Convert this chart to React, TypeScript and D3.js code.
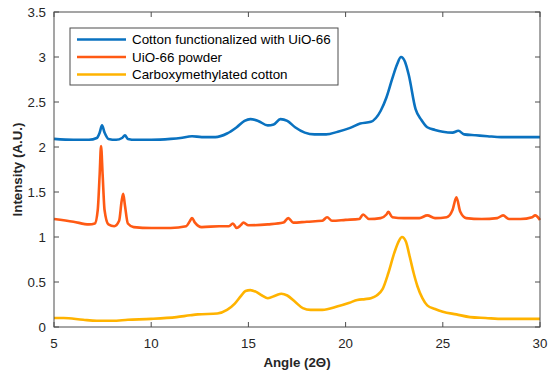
import React from "react";
import * as d3 from "d3";

const seriesNames = [
  "Cotton functionalized with UiO-66",
  "UiO-66 powder",
  "Carboxymethylated cotton",
];
const seriesColors = ["#0a72c0", "#ff5a14", "#ffb300"];

const cottonUioX = [5, 6, 6.8, 7.2, 7.35, 7.47, 7.6, 7.8, 8.2, 8.5, 8.65, 8.8, 9.2, 10, 11, 11.5, 12.1, 12.6, 13.3, 13.9, 14.4, 14.8, 15.1, 15.5, 16.0, 16.3, 16.65, 17.0, 17.4, 17.9, 18.4, 19.0, 19.6, 20.2, 20.75, 21.3, 21.8, 22.1, 22.4, 22.65, 22.85, 23.05, 23.25, 23.6, 23.9, 24.2, 24.6, 25.0, 25.5, 25.8, 26.1, 26.7, 27.3, 28, 29, 30];
const cottonUioY = [2.09, 2.08, 2.08, 2.1, 2.16, 2.24, 2.16, 2.09, 2.08, 2.1, 2.13, 2.09, 2.08, 2.08, 2.09, 2.1, 2.12, 2.11, 2.11, 2.15, 2.22, 2.29, 2.31, 2.29, 2.24, 2.25, 2.31, 2.29, 2.22, 2.16, 2.14, 2.14, 2.17, 2.21, 2.26, 2.28, 2.4, 2.55, 2.76, 2.92, 3.0, 2.95, 2.8, 2.42, 2.3, 2.22, 2.19, 2.17, 2.16, 2.18, 2.14, 2.13, 2.12, 2.11, 2.11, 2.11];

const uioX = [5, 6, 6.8, 7.1, 7.25, 7.35, 7.42, 7.5, 7.6, 7.8, 8.1, 8.35, 8.48, 8.56, 8.65, 8.8, 9.1, 10, 11, 11.8, 12.0, 12.1, 12.25, 12.6, 13.5, 14.0, 14.2, 14.4, 14.6, 14.75, 15.0, 16, 16.8, 17.05, 17.3, 18, 18.8, 19.05, 19.3, 20, 20.7, 20.9, 21.2, 21.8, 22.1, 22.2, 22.4, 23, 23.8, 24.2, 24.6, 25.2, 25.5, 25.7, 25.9, 26.2, 27, 27.8, 28.1, 28.4, 29, 29.6, 29.75, 30];
const uioY = [1.2, 1.17, 1.14, 1.15, 1.3, 1.7, 2.01, 1.7, 1.3, 1.14, 1.12, 1.18, 1.4, 1.48, 1.35, 1.15, 1.11, 1.1, 1.1, 1.12, 1.18, 1.21, 1.16, 1.11, 1.12, 1.12, 1.15, 1.1, 1.13, 1.16, 1.13, 1.14, 1.16, 1.21, 1.16, 1.17, 1.18, 1.22, 1.18, 1.19, 1.2, 1.25, 1.2, 1.21, 1.25, 1.28, 1.22, 1.21, 1.21, 1.24, 1.21, 1.22, 1.3, 1.44, 1.28, 1.21, 1.2, 1.21, 1.24, 1.2, 1.2, 1.22, 1.24, 1.19];

const cmcX = [5, 5.5, 6.5, 7.2, 8, 8.8, 10, 11.3, 12.0, 12.4, 13.4, 13.9, 14.3, 14.6, 14.85, 15.1, 15.4, 15.7, 16.0, 16.4, 16.7, 17.0, 17.4, 17.8, 18.2, 18.8, 19.6, 20.2, 20.6, 21.0, 21.3, 21.6, 21.9, 22.2, 22.5, 22.75, 22.9, 23.1, 23.3, 23.5, 23.7, 23.95, 24.2, 24.6, 25.0, 25.7, 26.4, 27.2, 28.1, 29, 30];
const cmcY = [0.1, 0.1, 0.08, 0.07, 0.07, 0.08, 0.09, 0.11, 0.13, 0.14, 0.15, 0.19, 0.26, 0.34, 0.4, 0.41, 0.39, 0.35, 0.32, 0.35, 0.37, 0.35, 0.28, 0.21, 0.19, 0.19, 0.23, 0.27, 0.3, 0.31, 0.32, 0.35, 0.42, 0.6, 0.82, 0.96, 1.0, 0.95, 0.78, 0.6, 0.45, 0.32, 0.24, 0.2, 0.17, 0.14, 0.11, 0.1, 0.09, 0.09, 0.09];

const xTicks = [5, 10, 15, 20, 25, 30];
const yTicks = [0, 0.5, 1, 1.5, 2, 2.5, 3, 3.5];

const W = 550;
const H = 375;
const margin = { left: 54, right: 10, top: 12, bottom: 48 };

export default function App() {
  const x = d3.scaleLinear().domain([5, 30]).range([margin.left, W - margin.right]);
  const y = d3.scaleLinear().domain([0, 3.5]).range([H - margin.bottom, margin.top]);
  const line = d3
    .line<[number, number]>()
    .x((d) => x(d[0]))
    .y((d) => y(d[1]))
    .curve(d3.curveMonotoneX);

  const series = [
    cottonUioX.map((v, i) => [v, cottonUioY[i]] as [number, number]),
    uioX.map((v, i) => [v, uioY[i]] as [number, number]),
    cmcX.map((v, i) => [v, cmcY[i]] as [number, number]),
  ];

  const axisColor = "#4d4d4d";
  const font = "'Liberation Sans', Arial, Helvetica, sans-serif";
  const x0 = x(5), x1 = x(30), y0 = y(0), y1 = y(3.5);
  const tl = 5;

  return (
    <svg width={W} height={H} style={{ position: "absolute", left: 0, top: 0, background: "#fff" }} fontFamily={font}>
      <rect x={0} y={0} width={W} height={H} fill="#fff" />
      {series.map((s, i) => (
        <path key={i} d={line(s) || ""} fill="none" stroke={seriesColors[i]} strokeWidth={2.6} strokeLinejoin="round" />
      ))}
      <rect x={x0} y={y1} width={x1 - x0} height={y0 - y1} fill="none" stroke={axisColor} strokeWidth={1} />
      {xTicks.map((t) => (
        <g key={"x" + t}>
          <line x1={x(t)} x2={x(t)} y1={y0} y2={y0 - tl} stroke={axisColor} />
          <line x1={x(t)} x2={x(t)} y1={y1} y2={y1 + tl} stroke={axisColor} />
          <text x={x(t)} y={y0 + 21} textAnchor="middle" fontSize={13.3} fill="#262626">{t}</text>
        </g>
      ))}
      {yTicks.map((t) => (
        <g key={"y" + t}>
          <line x1={x0} x2={x0 + tl} y1={y(t)} y2={y(t)} stroke={axisColor} />
          <line x1={x1} x2={x1 - tl} y1={y(t)} y2={y(t)} stroke={axisColor} />
          <text x={x0 - 8} y={y(t) + 4.5} textAnchor="end" fontSize={13.3} fill="#262626">{t}</text>
        </g>
      ))}
      <text x={(x0 + x1) / 2} y={367} textAnchor="middle" fontSize={13.3} fontWeight="bold" fill="#262626">Angle (2Θ)</text>
      <text transform={`translate(22,${(y0 + y1) / 2}) rotate(-90)`} textAnchor="middle" fontSize={13.3} fontWeight="bold" fill="#262626">Intensity (A.U.)</text>
      <g>
        <rect x={70} y={28} width={268} height={57} fill="#fff" stroke={axisColor} strokeWidth={1} />
        {seriesNames.map((n, i) => (
          <g key={n}>
            <line x1={77} x2={126} y1={39.5 + i * 17.5} y2={39.5 + i * 17.5} stroke={seriesColors[i]} strokeWidth={2.6} />
            <text x={132} y={44 + i * 17.5} fontSize={13.4} fill="#000">{n}</text>
          </g>
        ))}
      </g>
    </svg>
  );
}
